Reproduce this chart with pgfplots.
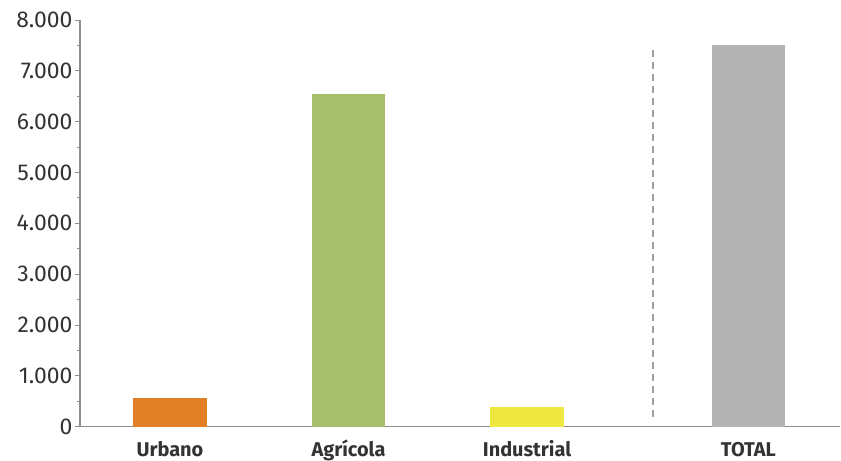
\documentclass[border=0pt]{standalone}
\usepackage{fontspec}
\setmainfont{Fira Sans}
\usepackage{pgfplots}
\pgfplotsset{compat=1.18}

\definecolor{urbano}{HTML}{E07F26}
\definecolor{agricola}{HTML}{A6BF6D}
\definecolor{industrial}{HTML}{EDE740}
\definecolor{total}{HTML}{B3B3B3}
\definecolor{axisgray}{HTML}{8E8E8E}
\definecolor{dashgray}{HTML}{A0A0A0}
\definecolor{labelgray}{HTML}{333333}

\begin{document}
\begin{tikzpicture}
\begin{axis}[
  at={(0,0)}, anchor=south west,
  scale only axis,
  width=760bp, height=406.7bp,
  xmin=-0.504, xmax=3.753,
  ymin=0, ymax=8000,
  axis x line*=bottom, axis y line*=left,
  axis line style={-, axisgray, line width=1.3pt},
  ytick={0,1000,...,8000},
  minor y tick num=1,
  y tick label style={font=\fontsize{23}{26}\selectfont, text=labelgray, xshift=1bp},
  yticklabel style={/pgf/number format/.cd, 1000 sep={.}, assume math mode=true},
  xtick={0,1,2,3.24},
  xticklabels={Urbano,Agrícola,Industrial,TOTAL},
  x tick label style={font=\fontsize{20}{24}\selectfont\bfseries, text=labelgray,
    anchor=base, yshift=-25bp},
  x tick style={draw=none},
  extra x ticks={-0.504,0.5,1.5,2.706},
  extra x tick labels={},
  extra x tick style={tick style={draw=axisgray, line width=1.3pt}, major tick length=4bp},
  tick align=outside,
  y tick style={axisgray, line width=1pt},
  major tick length=5bp, minor tick length=3bp,
  ybar, bar width=0.41, bar shift=0pt,
  clip=false,
]
\addplot[fill=urbano, draw=none] coordinates {(0,570)};
\addplot[fill=agricola, draw=none] coordinates {(1,6545)};
\addplot[fill=industrial, draw=none] coordinates {(2,393)};
\addplot[fill=total, draw=none] coordinates {(3.24,7508)};
% separator between the sectors and the total
\addplot[sharp plot, draw=dashgray, line width=2.4bp, dash pattern=on 7bp off 5bp]
  coordinates {(2.706,200) (2.706,7508)};
\end{axis}
\pgfresetboundingbox
\path[use as bounding box] (-80bp,-34.3bp) rectangle (761bp,426.7bp);
\end{tikzpicture}
\end{document}
